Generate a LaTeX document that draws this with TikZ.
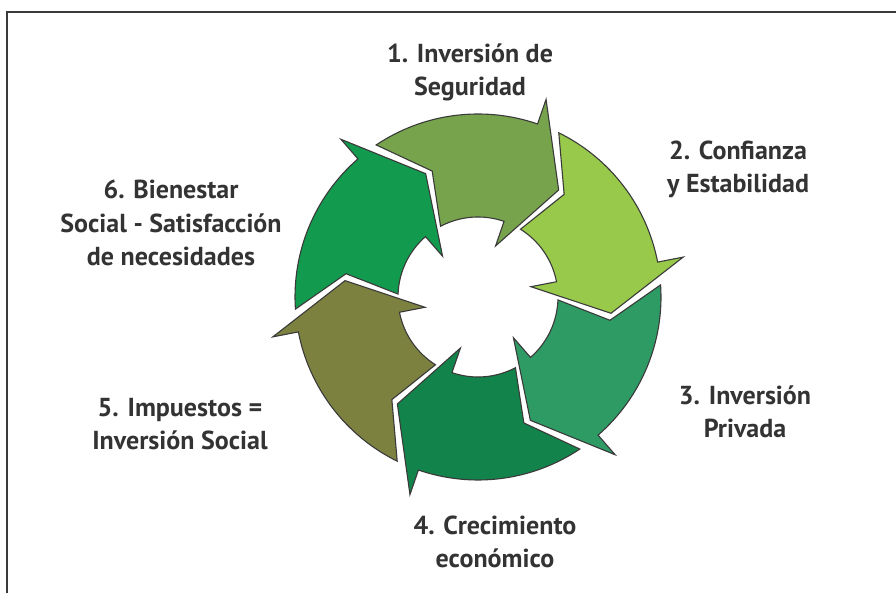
\documentclass[tikz,border=0pt]{standalone}
\usepackage{fontspec}
\setsansfont{PT Sans}
\definecolor{linegray}{HTML}{3A3A3A}
\definecolor{textgray}{HTML}{333333}
\definecolor{arrowone}{HTML}{76A34C}
\definecolor{arrowtwo}{HTML}{98C94A}
\definecolor{arrowthree}{HTML}{2E9A64}
\definecolor{arrowfour}{HTML}{12834A}
\definecolor{arrowfive}{HTML}{7D8140}
\definecolor{arrowsix}{HTML}{129A4E}
\tikzset{
  cyclearrow/.style={draw=linegray, line width=1.1pt, line join=miter},
  cyclelabel/.style={text=textgray, align=center, anchor=base,
    font=\sffamily\bfseries\fontsize{26}{33.5}\selectfont}
}
\begin{document}
\begin{tikzpicture}[x=1pt, y=1pt]
      \useasboundingbox (0,0) rectangle (896,593);
      % Frame
      \draw[linegray, line width=2] (7,0) -- (7,581) -- (896,581);

      % Ring of arrows
      \coordinate (c) at (478,296);
      \foreach \k/\col in {0/arrowone, 1/arrowtwo, 2/arrowthree, 3/arrowfour, 4/arrowfive, 5/arrowsix} {
        \begin{scope}[shift={(c)}, rotate=-60*\k]
          \filldraw[cyclearrow, fill=\col] (123.8:183) arc[start angle=123.8, end angle=71, radius=183]
            -- (71:209) -- (53:134) -- (71:54) -- (71:80)
            arc[start angle=71, end angle=117.9, radius=80] -- (110:134) -- cycle;
        \end{scope}
      }

      % Labels (base = last line)
      \node[cyclelabel] (seguridad) at (470,497) {1. Inversión de\\Seguridad};
      \node[cyclelabel] (confianza) at (738,400) {2. Confianza\\y Estabilidad};
      \node[cyclelabel] (privada) at (745,155) {3. Inversión\\Privada};
      \node[cyclelabel] (crecimiento) at (495,25) {4. Crecimiento\\económico};
      \node[cyclelabel] (impuestos) at (180,143) {5. Impuestos =\\Inversión Social};
      \node[cyclelabel] (bienestar) at (171,327) {6. Bienestar\\Social - Satisfacción\\de necesidades};
    \end{tikzpicture}
\end{document}
